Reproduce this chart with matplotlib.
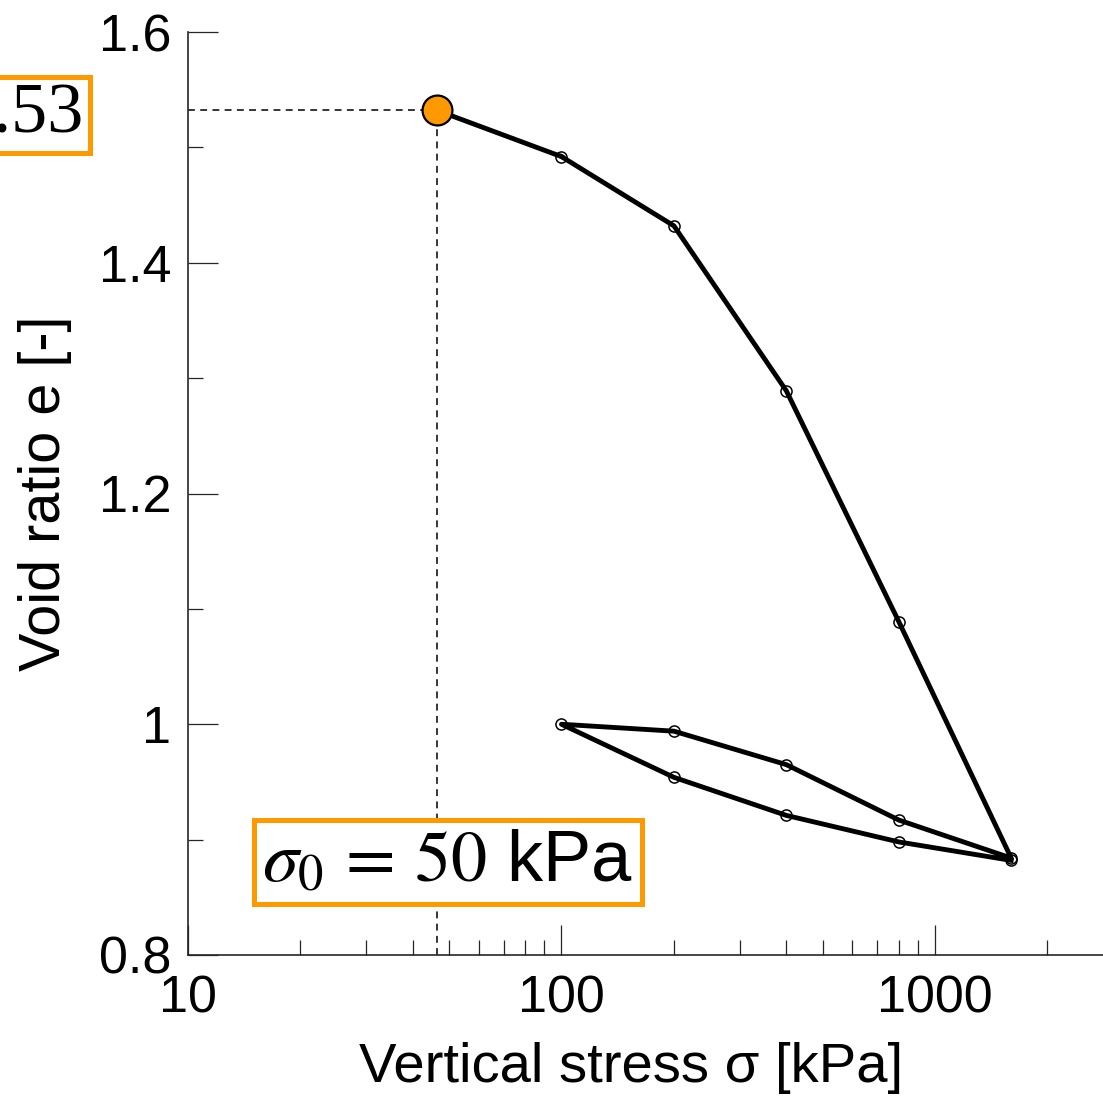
import matplotlib
matplotlib.use("Agg")
import matplotlib.pyplot as plt
import numpy as np

# Data
load_stress = [46.5, 100, 200, 400, 800, 1600]
load_e = [1.532, 1.492, 1.432, 1.289, 1.089, 0.884]
unload_stress = [1600, 800, 400, 200, 100]
unload_e = [0.884, 0.917, 0.965, 0.994, 1.000]
reload_stress = [100, 200, 400, 800, 1600]
reload_e = [1.000, 0.954, 0.921, 0.898, 0.882]
sigma0 = 46.5
e0 = 1.532
yticks = [0.8, 1.0, 1.2, 1.4, 1.6]
yticklabels = ["0.8", "1", "1.2", "1.4", "1.6"]
xticks = [10, 100, 1000]
xticklabels = ["10", "100", "1000"]

plt.rcParams['font.family'] = ['Liberation Sans', 'DejaVu Sans']
plt.rcParams['mathtext.fontset'] = 'stix'

W, H = 1103, 1100
fig = plt.figure(figsize=(W / 100, H / 100), dpi=100)
ax = fig.add_axes([188 / W, 145 / H, (W - 188) / W, (955 - 32) / H])
ax.set_xscale('log')
ax.set_xlim(10, 2818)
ax.set_ylim(0.8, 1.6)

orange = '#FF9900'
path_x = load_stress + unload_stress[1:] + reload_stress[1:]
path_y = load_e + unload_e[1:] + reload_e[1:]
ax.plot(path_x[1:], path_y[1:], color='black', lw=3.5, marker='o', ms=8,
        mfc='none', mec='black', mew=1.1, zorder=3, clip_on=False)
ax.plot(path_x[:2], path_y[:2], color='black', lw=3.5, zorder=3)

# dashed guide lines
ax.plot([10, sigma0], [e0, e0], color='black', lw=1.1, ls=(0, (4.5, 3.5)), zorder=2)
ax.plot([sigma0, sigma0], [0.8, e0], color='black', lw=1.1, ls=(0, (4.5, 3.5)), zorder=2)
ax.plot([sigma0], [e0], marker='o', ms=21.5, mfc=orange, mec='black', mew=1.6,
        zorder=5, clip_on=False)

# ticks & spines
for s in ['top', 'right']:
    ax.spines[s].set_visible(False)
for s in ['left', 'bottom']:
    ax.spines[s].set_linewidth(1.2)
    ax.spines[s].set_color('#262626')
ax.set_yticks(yticks)
ax.set_yticklabels(yticklabels)
ax.set_yticks([0.9, 1.1, 1.3, 1.5], minor=True)
ax.set_xticks(xticks)
ax.set_xticklabels(xticklabels)
ax.xaxis.set_minor_locator(matplotlib.ticker.LogLocator(base=10, subs=np.arange(2, 10)))
ax.xaxis.set_minor_formatter(matplotlib.ticker.NullFormatter())
ax.tick_params(which='major', direction='in', length=21.5, width=0.9, color='#262626',
               labelsize=37.5, pad=12)
ax.tick_params(which='minor', direction='in', length=10.5, width=0.9, color='#262626')
ax.tick_params(axis='x', which='major', pad=14)

ax.set_xlabel('Vertical stress σ [kPa]', fontsize=40.5)
ax.set_ylabel('Void ratio e [-]', fontsize=41.5)
ax.xaxis.set_label_coords((631 - 188) / (W - 188), -(1068 - 955) / (955 - 32), transform=ax.transAxes)
ax.xaxis.label.set_va('center')
ax.yaxis.set_label_coords(-(188 - 45) / (W - 188), 0.500)
ax.yaxis.label.set_va('center')

# annotations
fig.text(84 / W, 1 - 115 / H, '1.53', ha='right', va='center', fontsize=52,
         family='Liberation Serif',
         bbox=dict(boxstyle='square,pad=0.08', fc='white', ec=orange, lw=3.6))
fig.text(448 / W, 1 - 862 / H, r'$\sigma_0\,=\,50$ kPa', ha='center', va='center',
         fontsize=52,
         bbox=dict(boxstyle='square,pad=0.12', fc='white', ec=orange, lw=3.6),
         zorder=6)

fig.savefig('out.png', dpi=100)
